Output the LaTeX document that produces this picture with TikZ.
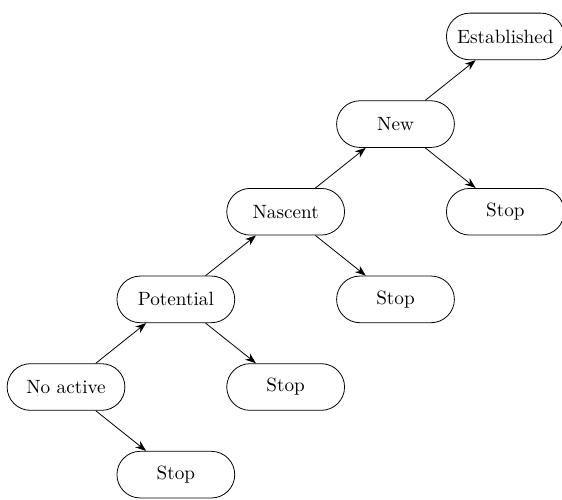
\documentclass[tikz,border=0pt]{standalone}
\usepackage{tikz}
\usetikzlibrary{arrows.meta, positioning}

\begin{document}
\begin{tikzpicture}[
    node distance=1.54cm and 1.93cm, on grid,
    state/.style={draw, rectangle, rounded corners=0.41cm,
      minimum width=2.07cm, minimum height=0.82cm, font=\fontsize{9.6}{11}\selectfont},
    >={Stealth[length=1.9mm, width=1.4mm]}
  ]
  \useasboundingbox (-1.16,-1.968) rectangle (8.716,6.801);
  \node[state] (none) at (0,0) {No active};
  \node[state, below right=of none] (stop1) {Stop};
  \node[state, above right=of none] (pot) {Potential};
  \node[state, below right=of pot] (stop2) {Stop};
  \node[state, above right=of pot] (nas) {Nascent};
  \node[state, below right=of nas] (stop3) {Stop};
  \node[state, above right=of nas] (new) {New};
  \node[state, below right=of new] (stop4) {Stop};
  \node[state, above right=of new] (est) {Established};
  \draw[->] (none) -- (stop1);
  \draw[->] (none) -- (pot);
  \draw[->] (pot) -- (stop2);
  \draw[->] (pot) -- (nas);
  \draw[->] (nas) -- (stop3);
  \draw[->] (nas) -- (new);
  \draw[->] (new) -- (stop4);
  \draw[->] (new) -- (est);
\end{tikzpicture}
\end{document}
